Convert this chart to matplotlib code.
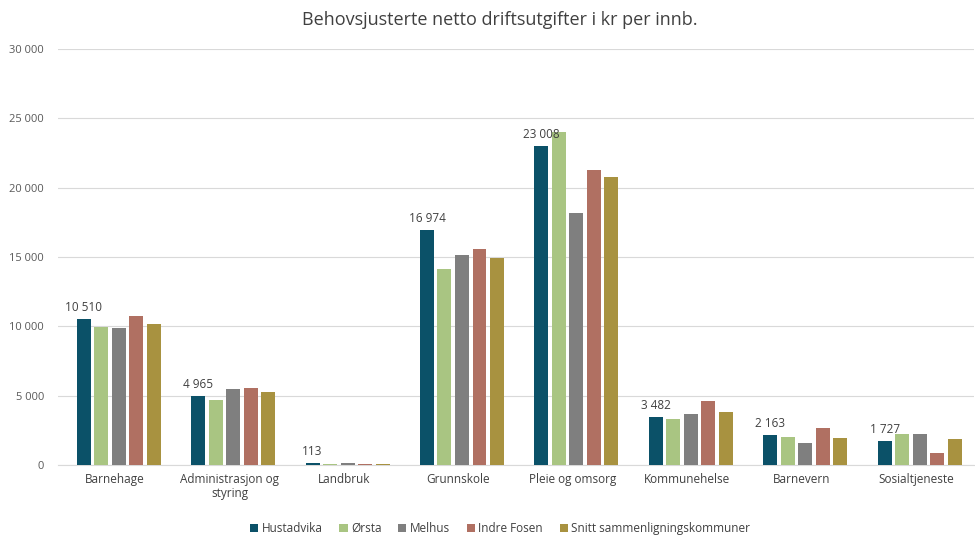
import matplotlib
matplotlib.use("Agg")
import matplotlib.pyplot as plt
import numpy as np

categories = ["Barnehage", "Administrasjon og\nstyring", "Landbruk", "Grunnskole",
              "Pleie og omsorg", "Kommunehelse", "Barnevern", "Sosialtjeneste"]
series_names = ["Hustadvika", "Ørsta", "Melhus", "Indre Fosen", "Snitt sammenligningskommuner"]
hustadvika = [10510, 4965, 113, 16974, 23008, 3482, 2163, 1727]
orsta = [9970, 4690, 50, 14130, 23990, 3320, 2040, 2240]
melhus = [9860, 5460, 150, 15120, 18190, 3650, 1560, 2230]
indre_fosen = [10740, 5550, 80, 15550, 21270, 4640, 2640, 870]
snitt = [10140, 5240, 70, 14950, 20790, 3820, 1970, 1850]
hustadvika_labels = ["10 510", "4 965", "113", "16 974", "23 008", "3 482", "2 163", "1 727"]
y_ticks = [0, 5000, 10000, 15000, 20000, 25000, 30000]
y_tick_labels = ["0", "5 000", "10 000", "15 000", "20 000", "25 000", "30 000"]

colors = ["#0b5168", "#a9c582", "#7f7f7f", "#b07062", "#a89240"]
all_series = [hustadvika, orsta, melhus, indre_fosen, snitt]

plt.rcParams['font.family'] = ['Open Sans', 'DejaVu Sans']
fig = plt.figure(figsize=(9.75, 5.38), dpi=100)
ax = fig.add_axes([0.0595, 0.136, 0.939, 0.773])

x = np.arange(len(categories))
pitch = 0.153
width = 0.122
offset = 0.03
for i, (vals, c, name) in enumerate(zip(all_series, colors, series_names)):
    ax.bar(x + offset + (i - 2) * pitch, vals, width=width, color=c, label=name, zorder=3)

for xi, v, lab in zip(x, hustadvika, hustadvika_labels):
    ax.text(xi + offset - 2 * pitch, v + 350, lab, ha="center", va="bottom", fontsize=8.5, color="#404040")

ax.set_xlim(-0.5, len(categories) - 0.5)
ax.set_ylim(0, 30000)
ax.set_yticks(y_ticks)
ax.set_yticklabels(y_tick_labels, fontsize=8, color="#595959")
ax.set_xticks(x)
ax.set_xticklabels(categories, fontsize=8.5, color="#404040", linespacing=1.1)
ax.tick_params(axis="both", length=0, pad=6)
ax.tick_params(axis="y", pad=10)
ax.grid(axis="y", color="#d9d9d9", linewidth=0.8, zorder=0)
for s in ["top", "right", "left"]:
    ax.spines[s].set_visible(False)
ax.spines["bottom"].set_color("#d9d9d9")

fig.text(0.513, 0.962, "Behovsjusterte netto driftsutgifter i kr per innb.", ha="center", va="center",
         fontsize=13, color="#404040")

leg = fig.legend(loc="center", bbox_to_anchor=(0.513, 0.018), ncol=5, frameon=False, fontsize=8.5,
                 handlelength=0.7, handleheight=0.7, handletextpad=0.3, columnspacing=1.4)
for t in leg.get_texts():
    t.set_color("#404040")

fig.savefig("out.png", dpi=100, facecolor="white")
